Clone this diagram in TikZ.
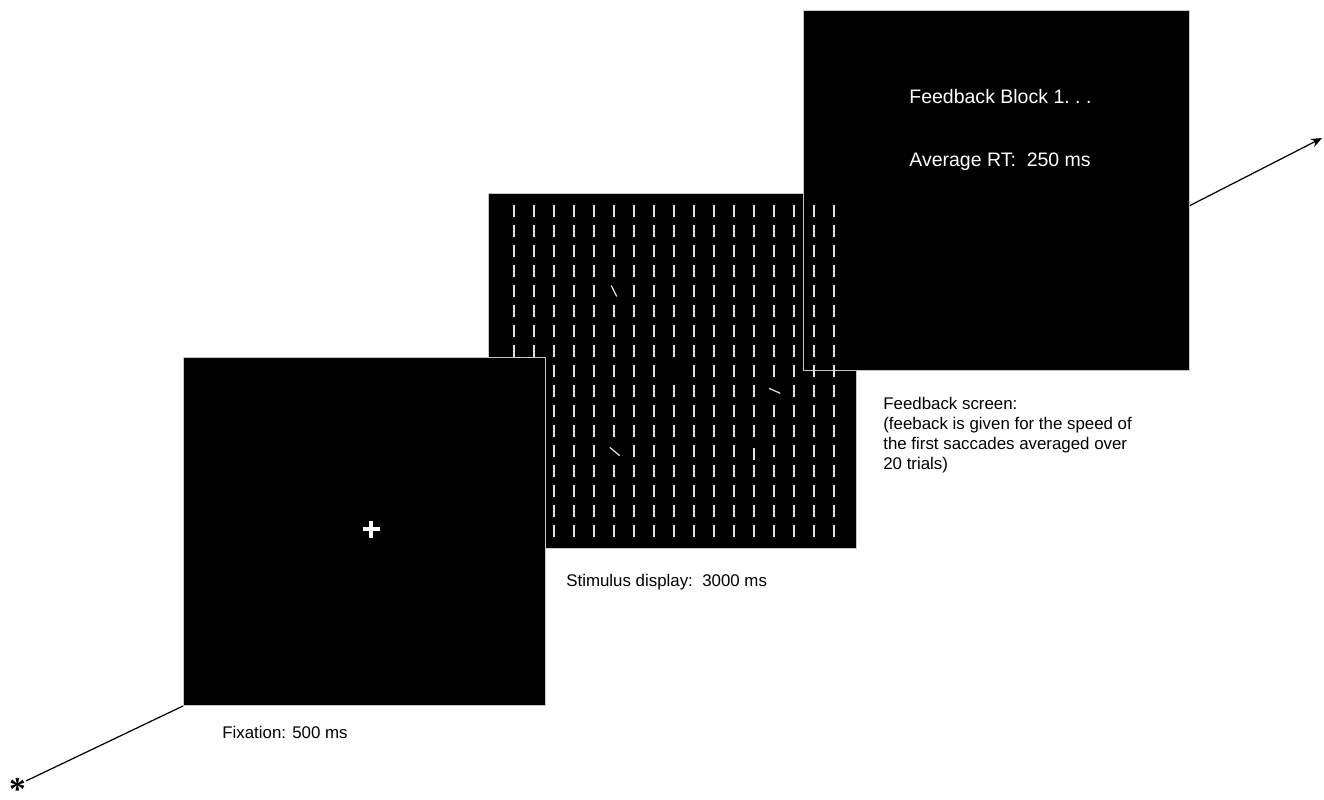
\documentclass[tikz,border=0pt]{standalone}
\usepackage{fontspec}
\setmainfont{Liberation Sans}
\newfontfamily\starfont{Liberation Serif}
\usetikzlibrary{arrows.meta}

\begin{document}
\begin{tikzpicture}[x=0.02cm, y=-0.02cm, >=Stealth]
\tikzset{
  screen/.style={draw=gray!45, fill=black, line width=0.6pt, inner sep=0pt, anchor=north west},
  bar/.style={draw=white!88!black, line width=0.6pt},
  oddbar/.style={draw=white!88!black, line width=0.7pt},
  caption/.style={anchor=west, inner sep=0pt, font=\fontsize{9.6}{11.4}\selectfont},
  fbtext/.style={anchor=west, inner sep=0pt, text=white, font=\fontsize{11.1}{13}\selectfont},
  timeline/.style={line width=0.7pt}
}
\useasboundingbox (0,0) rectangle (1324,799);
% screens, back to front
\node[screen, minimum width=7.36cm, minimum height=7.1cm] (stim) at (488,193) {};
\node[screen, minimum width=7.72cm, minimum height=7.2cm] (feed) at (803,10) {};
% bar array of the search display
\foreach \i in {0,...,16}{
  \foreach \j in {0,...,16}{
    \pgfmathtruncatemacro\k{100*\i+\j}
    \edef\skipbar{\ifnum\k=504 1\else\ifnum\k=512 1\else\ifnum\k=1309 1\else
      \ifnum\k=808 1\else\ifnum\k=1212 1\else 0\fi\fi\fi\fi\fi}
    \ifnum\skipbar=0
      \draw[bar] (514+20*\i,205+20*\j) -- ++(0,12);
    \fi
  }
}
% odd bars
\draw[oddbar] (611.3,285.5) -- (616.7,296.5);
\draw[oddbar] (769,388.3) -- (780.3,393.3);
\draw[oddbar] (609.7,447.3) -- (619.7,455.7);
\draw[bar] (754,448) -- ++(0,12);
\node[screen, minimum width=7.24cm, minimum height=6.96cm] (fix) at (183,357) {};
% fixation cross
\draw[white, line width=1.8pt] (362.5,529) -- (379.5,529) (371,520.5) -- (371,537.5);
% feedback texts
\node[fbtext] (blk) at (909,97) {Feedback Block 1.\ .\ .};
\node[fbtext] (rt) at (909,162) {Average RT:\ \ 250 ms};
% captions
\node[caption] (fixlbl) at (222,732) {Fixation: 500 ms};
\node[caption] (stimlbl) at (566,582) {Stimulus display:\ \ 3000 ms};
\node[caption, anchor=north west, align=left] (feedlbl) at (883,397)
  {Feedback screen:\\(feeback is given for the speed of\\the first saccades averaged over\\20 trials)};
% time line
\node[inner sep=0pt, font=\fontsize{19}{19}\starfont\bfseries] (star) at (17.5,785)
  {\raisebox{-4.8pt}[8.2pt][0pt]{*}};
\coordinate (tip) at (1322,138);
\draw[timeline] (star) -- (fix.south west);
\draw[timeline, -{Stealth[length=2.2mm, width=1.8mm]}] ([yshift=-0.3cm]feed.east) -- (tip);
\end{tikzpicture}
\end{document}
